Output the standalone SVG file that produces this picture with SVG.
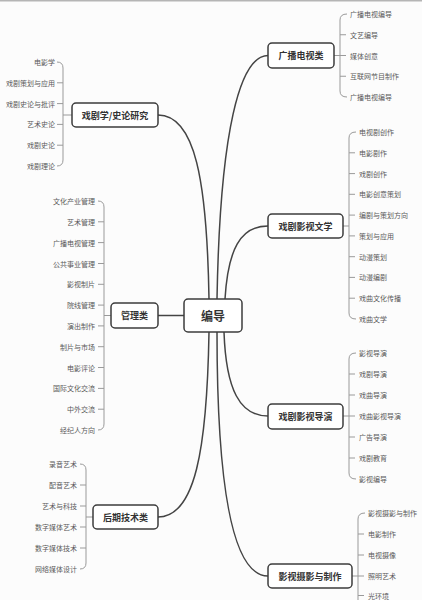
<svg xmlns="http://www.w3.org/2000/svg" width="422" height="600" viewBox="0 0 422 600">
<style>
.bg{fill:#fcfcfc}
.node rect{fill:#ffffff;stroke:#3c3c3c;stroke-width:1.5}
.ntext{font-family:"Noto Sans CJK SC","Liberation Sans",sans-serif;font-size:9px;font-weight:bold;fill:#333;text-anchor:middle;dominant-baseline:central}
.ctext{font-family:"Noto Sans CJK SC","Liberation Sans",sans-serif;font-size:12px;font-weight:bold;fill:#333;text-anchor:middle;dominant-baseline:central}
.main{fill:none;stroke:#444;stroke-width:1.5}
.br{fill:none;stroke:#9a9a9a;stroke-width:1}
.t{font-family:"Noto Sans CJK SC","Liberation Sans",sans-serif;font-size:7px;fill:#5a5a5a;dominant-baseline:central}
.l{text-anchor:end}
</style>
<rect class="bg" x="0" y="0" width="422" height="600"/>
<rect x="0" y="0" width="422" height="1.5" fill="#b5b5b5"/>

<g id="connectors">
<path class="main" d="M209,299 C207,180 195,115 158,115"/>
<path class="main" d="M158,315.5 H184"/>
<path class="main" d="M209,332 C207,450 195,517 158,517"/>
<path class="main" d="M217,299 C220,130 240,55.5 268,55.5"/>
<path class="main" d="M225,299 C228,250 240,226 268,226"/>
<path class="main" d="M224,332 C226,390 240,416 268,416"/>
<path class="main" d="M217,332 C217,500 235,576 268,576"/>

<!-- 戏剧学/史论研究 bracket -->
<path class="br" d="M72,115 H63"/>
<path class="br" d="M57,62 Q63,62 63,68 L63,160 Q63,166 57,166"/>
<path class="br" d="M63,82.8 H57 M63,103.6 H57 M63,124.4 H57 M63,145.2 H57"/>
<!-- 管理类 bracket -->
<path class="br" d="M111,315.5 H104"/>
<path class="br" d="M98,201 Q104,201 104,207 L104,424 Q104,430 98,430"/>
<path class="br" d="M104,221.8 H98 M104,242.6 H98 M104,263.5 H98 M104,284.3 H98 M104,305.1 H98 M104,325.9 H98 M104,346.7 H98 M104,367.5 H98 M104,388.4 H98 M104,409.2 H98"/>
<!-- 后期技术类 bracket -->
<path class="br" d="M93,517 H86"/>
<path class="br" d="M80,464 Q86,464 86,470 L86,563 Q86,569 80,569"/>
<path class="br" d="M86,485 H80 M86,506 H80 M86,527 H80 M86,548 H80"/>
<!-- 广播电视类 bracket -->
<path class="br" d="M334,55.5 H340"/>
<path class="br" d="M347,14 Q340,14 340,20 L340,91 Q340,97 347,97"/>
<path class="br" d="M340,34.75 H346 M340,55.5 H346 M340,76.25 H346"/>
<!-- 戏剧影视文学 bracket -->
<path class="br" d="M343,226 H349"/>
<path class="br" d="M356,132 Q349,132 349,138 L349,313 Q349,319 356,319"/>
<path class="br" d="M349,152.8 H355 M349,173.6 H355 M349,194.3 H355 M349,215.1 H355 M349,235.9 H355 M349,256.7 H355 M349,277.4 H355 M349,298.2 H355"/>
<!-- 戏剧影视导演 bracket -->
<path class="br" d="M343,416 H349"/>
<path class="br" d="M356,353 Q349,353 349,359 L349,473 Q349,479 356,479"/>
<path class="br" d="M349,374 H355 M349,395 H355 M349,416 H355 M349,437 H355 M349,458 H355"/>
<!-- 影视摄影与制作 bracket -->
<path class="br" d="M352,576 H358"/>
<path class="br" d="M365,513 Q358,513 358,519 L358,620"/>
<path class="br" d="M358,534 H364 M358,555 H364 M358,576 H364 M358,595.5 H364"/>
</g>

<g id="center" class="node"><rect x="184" y="299" width="58" height="33" rx="4"/><text class="ctext" x="213" y="315.5">编导</text></g>

<g id="n-shilun" class="node"><rect x="72" y="103" width="86" height="24" rx="4"/><text class="ntext" x="115" y="115">戏剧学/史论研究</text></g>
<g id="n-guanli" class="node"><rect x="111" y="303" width="47" height="25" rx="4"/><text class="ntext" x="134.5" y="315.5">管理类</text></g>
<g id="n-houqi" class="node"><rect x="93" y="505" width="65" height="24" rx="4"/><text class="ntext" x="125.5" y="517">后期技术类</text></g>
<g id="n-guangbo" class="node"><rect x="268" y="43" width="66" height="25" rx="4"/><text class="ntext" x="301" y="55.5">广播电视类</text></g>
<g id="n-wenxue" class="node"><rect x="268" y="214" width="75" height="24" rx="4"/><text class="ntext" x="305.5" y="226">戏剧影视文学</text></g>
<g id="n-daoyan" class="node"><rect x="268" y="404" width="75" height="25" rx="4"/><text class="ntext" x="305.5" y="416.5">戏剧影视导演</text></g>
<g id="n-sheying" class="node"><rect x="268" y="564" width="84" height="24" rx="4"/><text class="ntext" x="310" y="576">影视摄影与制作</text></g>

<g id="leaves-shilun">
<text class="t l" x="55" y="62">电影学</text>
<text class="t l" x="55" y="82.8">戏剧策划与应用</text>
<text class="t l" x="55" y="103.6">戏剧史论与批评</text>
<text class="t l" x="55" y="124.4">艺术史论</text>
<text class="t l" x="55" y="145.2">戏剧史论</text>
<text class="t l" x="55" y="166">戏剧理论</text>
</g>
<g id="leaves-guanli">
<text class="t l" x="95" y="201">文化产业管理</text>
<text class="t l" x="95" y="221.8">艺术管理</text>
<text class="t l" x="95" y="242.6">广播电视管理</text>
<text class="t l" x="95" y="263.5">公共事业管理</text>
<text class="t l" x="95" y="284.3">影视制片</text>
<text class="t l" x="95" y="305.1">院线管理</text>
<text class="t l" x="95" y="325.9">演出制作</text>
<text class="t l" x="95" y="346.7">制片与市场</text>
<text class="t l" x="95" y="367.5">电影评论</text>
<text class="t l" x="95" y="388.4">国际文化交流</text>
<text class="t l" x="95" y="409.2">中外交流</text>
<text class="t l" x="95" y="430">经纪人方向</text>
</g>
<g id="leaves-houqi">
<text class="t l" x="77" y="464">录音艺术</text>
<text class="t l" x="77" y="485">配音艺术</text>
<text class="t l" x="77" y="506">艺术与科技</text>
<text class="t l" x="77" y="527">数字媒体艺术</text>
<text class="t l" x="77" y="548">数字媒体技术</text>
<text class="t l" x="77" y="569">网络媒体设计</text>
</g>
<g id="leaves-guangbo">
<text class="t" x="350" y="14">广播电视编导</text>
<text class="t" x="350" y="34.75">文艺编导</text>
<text class="t" x="350" y="55.5">媒体创意</text>
<text class="t" x="350" y="76.25">互联网节目制作</text>
<text class="t" x="350" y="97">广播电视编导</text>
</g>
<g id="leaves-wenxue">
<text class="t" x="359" y="132">电视剧创作</text>
<text class="t" x="359" y="152.8">电影剧作</text>
<text class="t" x="359" y="173.6">戏剧创作</text>
<text class="t" x="359" y="194.3">电影创意策划</text>
<text class="t" x="359" y="215.1">编剧与策划方向</text>
<text class="t" x="359" y="235.9">策划与应用</text>
<text class="t" x="359" y="256.7">动漫策划</text>
<text class="t" x="359" y="277.4">动漫编剧</text>
<text class="t" x="359" y="298.2">戏曲文化传播</text>
<text class="t" x="359" y="319">戏曲文学</text>
</g>
<g id="leaves-daoyan">
<text class="t" x="359" y="353">影视导演</text>
<text class="t" x="359" y="374">戏剧导演</text>
<text class="t" x="359" y="395">戏曲导演</text>
<text class="t" x="359" y="416">戏曲影视导演</text>
<text class="t" x="359" y="437">广告导演</text>
<text class="t" x="359" y="458">戏剧教育</text>
<text class="t" x="359" y="479">影视编导</text>
</g>
<g id="leaves-sheying">
<text class="t" x="368" y="513">影视摄影与制作</text>
<text class="t" x="368" y="534">电影制作</text>
<text class="t" x="368" y="555">电视摄像</text>
<text class="t" x="368" y="576">照明艺术</text>
<text class="t" x="368" y="595.5">光环境</text>
</g>
</svg>
